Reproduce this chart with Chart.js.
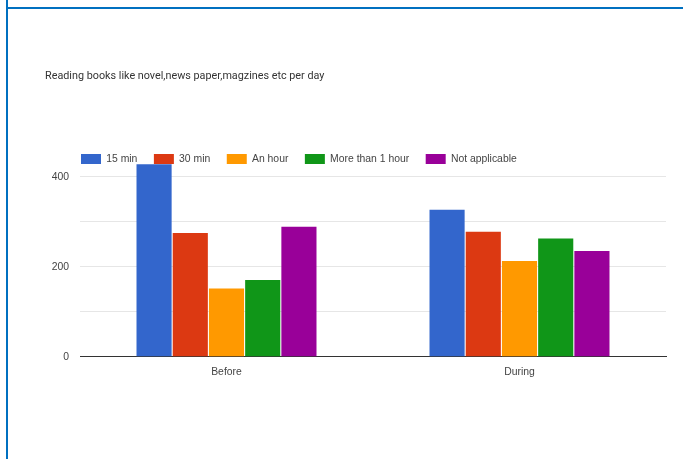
<!DOCTYPE html>
<html>
<head>
<meta charset="utf-8">
<script src="https://cdn.jsdelivr.net/npm/chart.js@4/dist/chart.umd.min.js"></script>
<style>
  html, body { margin: 0; padding: 0; background: #fff; }
  #wrap { position: relative; width: 683px; height: 459px; overflow: hidden; }
  #frame {
    position: absolute; left: 6px; top: 7px; right: -4px; bottom: -4px;
    border-left: 2px solid #0070c0; border-top: 2px solid #0070c0;
    pointer-events: none;
  }
  #frame-stub { position: absolute; left: 6px; top: 0; width: 2px; height: 7px; background: #0070c0; }
  canvas { position: absolute; left: 0; top: 0; }
</style>
</head>
<body>
<div id="wrap">
  <canvas id="c" width="683" height="459"></canvas>
  <div id="frame-stub"></div>
  <div id="frame"></div>
</div>
<script>
const categories = ['Before', 'During'];
const seriesNames = ['15 min', '30 min', 'An hour', 'More than 1 hour', 'Not applicable'];
const min15 = [428, 327];
const min30 = [275, 278];
const anHour = [152, 213];
const moreThanHour = [171, 263];
const notApplicable = [289, 235];
const yTickLabels = [0, 200, 400];
const yGridValues = [0, 100, 200, 300, 400];

const palette = ['#3366cc', '#dc3912', '#ff9900', '#109618', '#990099'];
const seriesValues = [min15, min30, anHour, moreThanHour, notApplicable];

// nudges the legend row so it starts over the plot's left edge
const legendShift = {
  id: 'legendShift',
  afterLayout(chart) {
    const lg = chart.legend;
    if (!lg) return;
    const dx = 19.5;
    lg.left += dx;
    lg.right += dx;
  }
};

const labelFont = { family: '"Liberation Sans", Arial, sans-serif', size: 10.4 };

new Chart(document.getElementById('c'), {
  type: 'bar',
  data: {
    labels: categories,
    datasets: seriesNames.map((name, i) => ({
      label: name,
      data: seriesValues[i],
      backgroundColor: palette[i],
      borderWidth: 0,
      barPercentage: 0.97,
      categoryPercentage: 0.618,
      clip: false
    }))
  },
  options: {
    responsive: false,
    animation: false,
    devicePixelRatio: 1,
    layout: { padding: { left: 45, right: 17, top: 0, bottom: 70.7 } },
    plugins: {
      title: {
        display: true,
        text: 'Reading books like novel,news paper,magzines etc per day',
        align: 'start',
        color: '#333',
        font: { family: 'Roboto, "Liberation Sans", sans-serif', size: 10.8, weight: 'normal' },
        padding: { top: 69.5, bottom: 54.8 }
      },
      legend: {
        display: true,
        position: 'top',
        align: 'start',
        labels: {
          boxWidth: 20,
          boxHeight: 10,
          padding: 16.5,
          color: '#444',
          font: labelFont
        }
      },
      tooltip: { enabled: false }
    },
    scales: {
      x: {
        grid: { display: false, drawTicks: false },
        border: { display: true, color: '#333', width: 1 },
        ticks: { color: '#444', font: labelFont, padding: 9.5 }
      },
      y: {
        min: 0,
        max: 406,
        afterFit(scale) { scale.width = 35; },
        afterBuildTicks(scale) { scale.ticks = yGridValues.map((v) => ({ value: v })); },
        border: { display: false },
        grid: {
          drawTicks: false,
          color: (ctx) => (ctx.tick && ctx.tick.value === 0) ? '#333' : '#e6e6e6',
          lineWidth: 1
        },
        ticks: {
          autoSkip: false,
          padding: 11,
          color: '#444',
          font: labelFont,
          callback: (v) => yTickLabels.includes(v) ? String(v) : ''
        }
      }
    }
  },
  plugins: [legendShift]
});
</script>
</body>
</html>
